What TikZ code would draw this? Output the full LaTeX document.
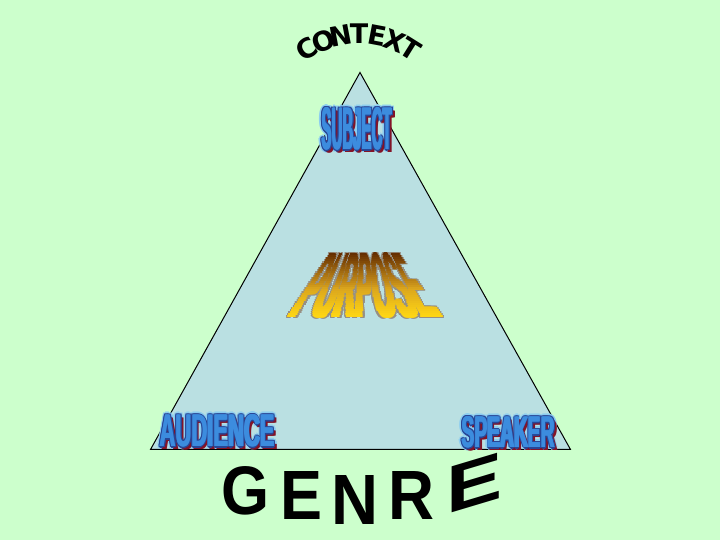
\documentclass[tikz,border=0pt]{standalone}
\usepackage{fontspec}
\setmainfont{Liberation Sans}
\newfontfamily\ctxfont{DejaVu Sans}
\usepackage{graphicx}
\definecolor{bggreen}{RGB}{204,255,204}
\definecolor{trifill}{RGB}{186,224,226}
\definecolor{halo}{RGB}{140,205,240}
\definecolor{shadowred}{RGB}{130,20,40}
\definecolor{outblue}{RGB}{40,70,150}
\definecolor{fillblue}{RGB}{60,140,222}
\definecolor{goldtop}{RGB}{100,45,0}
\definecolor{goldmid}{RGB}{215,160,30}
\definecolor{goldbot}{RGB}{255,215,20}
\definecolor{pgray}{RGB}{150,144,132}
\tikzset{wa/.style={inner sep=0pt, outer sep=0pt}}
\newcommand\blueword[5]{%
  \foreach \dx/\dy in {-3/0,3/0,0/-3,0/3,-2.2/-2.2,2.2/-2.2,-2.2/2.2,2.2/2.2}
    \node[wa,text=halo] at (#1+\dx,#2+\dy) {\resizebox{#3}{#4}{\bfseries #5}};
  \foreach \dx in {1.2,2.2,3.2}
    \node[wa,text=shadowred] at (#1+\dx,#2+2.5) {\resizebox{#3}{#4}{\bfseries #5}};
  \foreach \dx/\dy in {-1.6/0,1.6/0,0/-1.3,0/1.3,-1.2/-1,1.2/-1,-1.2/1,1.2/1}
    \node[wa,text=outblue] at (#1+\dx,#2+\dy) {\resizebox{#3}{#4}{\bfseries #5}};
  \foreach \dx in {-0.7,0,0.7}
    \node[wa,text=fillblue] at (#1+\dx,#2) {\resizebox{#3}{#4}{\bfseries #5}};
}
\begin{document}
\begin{tikzpicture}[x=0.5pt,y=-0.5pt]
\useasboundingbox (0,0) rectangle (720,540);
\fill[bggreen] (0,0) rectangle (720,540);
% triangle
\coordinate (apex) at (360,72.5);
\coordinate (bl) at (150.5,449.5);
\coordinate (br) at (570.5,449.5);
\draw[fill=trifill, line width=0.5pt, line join=miter] (apex) -- (bl) -- (br) -- cycle;
% CONTEXT arched
\foreach \ch [count=\i from 0] in {C,O,N,T,E,X,T} {
  \pgfmathsetmacro\ang{122-\i*64/6}
  \node[wa, rotate=\ang-90] (ctx\i) at ({359+98*cos(\ang)},{132-98*sin(\ang)})
    {\ctxfont\bfseries\fontsize{13.5}{14}\selectfont\ch};
}
% blue words
\blueword{357}{129}{35pt}{21pt}{SUBJECT}
\blueword{217.5}{431}{57.5pt}{16pt}{AUDIENCE}
\blueword{508.5}{432.5}{46.5pt}{15.5pt}{SPEAKER}
% PURPOSE in perspective, built from strips
\foreach \k in {0,...,31} {
  \pgfmathsetmacro\ya{253+\k*65/32}
  \pgfmathsetmacro\yb{\ya+65/32+0.4}
  \pgfmathsetmacro\t{(\k+0.5)/32}
  \pgfmathsetmacro\Wpt{(70+86*\t)/2}
  \pgfmathsetmacro\s{0.5+1.8*\t}
  \pgfmathtruncatemacro\pa{min(100,180*\t)}
  \pgfmathtruncatemacro\pb{max(0,(\t-0.5)/0.5*100)}
  \colorlet{tmpc}{goldmid!\pa!goldtop}
  \colorlet{stripc}{goldbot!\pb!tmpc}
  \begin{scope}
    \clip (250,\ya) rectangle (480,\yb);
    \foreach \dx/\dy in {-1/-1,1/-1,-1/1,1/1}
      \node[wa,text=pgray] at (365+\dx*\s+\dx*1.3,285.5+\dy*1.2)
        {\resizebox{\Wpt pt}{32.5pt}{\bfseries PURPOSE}};
    \foreach \dx in {-1,0,1}
      \node[wa,text=stripc] at (365+\dx*\s,285.5)
        {\resizebox{\Wpt pt}{32.5pt}{\bfseries PURPOSE}};
  \end{scope}
}
% GENRE
\node[wa] (g) at (246,491) {\resizebox{24pt}{24pt}{\bfseries G}};
\node[wa] (e1) at (302,495) {\resizebox{21pt}{24pt}{\bfseries E}};
\node[wa] (n) at (355,499.5) {\resizebox{23.5pt}{24.5pt}{\bfseries N}};
\node[wa] (r) at (412,495) {\resizebox{23pt}{24pt}{\bfseries R}};
\node[wa, yslant=0.3] (e2) at (474,483) {\resizebox{28pt}{23pt}{\bfseries E}};
\end{tikzpicture}
\end{document}
